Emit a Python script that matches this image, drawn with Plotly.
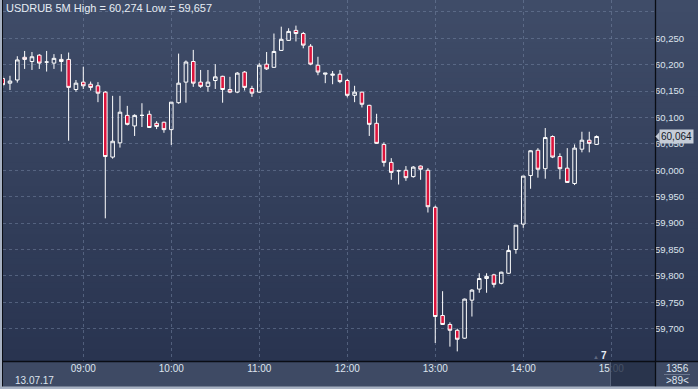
import plotly.graph_objects as go

DATE = "2017-07-13 "
times = ["08:05", "08:10", "08:15", "08:20", "08:25", "08:30", "08:35", "08:40", "08:45", "08:50", "08:55",
         "09:00", "09:05", "09:10", "09:15", "09:20", "09:25", "09:30", "09:35", "09:40", "09:45", "09:50", "09:55",
         "10:00", "10:05", "10:10", "10:15", "10:20", "10:25", "10:30", "10:35", "10:40", "10:45", "10:50", "10:55",
         "11:00", "11:05", "11:10", "11:15", "11:20", "11:25", "11:30", "11:35", "11:40", "11:45", "11:50", "11:55",
         "12:00", "12:05", "12:10", "12:15", "12:20", "12:25", "12:30", "12:35", "12:40", "12:45", "12:50", "12:55",
         "13:00", "13:05", "13:10", "13:15", "13:20", "13:25", "13:30", "13:35", "13:40", "13:45", "13:50", "13:55",
         "14:00", "14:05", "14:10", "14:15", "14:20", "14:25", "14:30", "14:35", "14:40", "14:45", "14:50"]

opens = [60.174, 60.165, 60.171, 60.214, 60.206, 60.218, 60.205, 60.203, 60.210, 60.210, 60.153,
         60.167, 60.163, 60.160, 60.148, 60.025, 60.052, 60.104, 60.084, 60.104, 60.106, 60.089, 60.091,
         60.077, 60.128, 60.167, 60.206, 60.167, 60.159, 60.170, 60.178, 60.153, 60.148, 60.186, 60.155,
         60.148, 60.201, 60.195, 60.227, 60.246, 60.265, 60.259, 60.235, 60.199, 60.182, 60.180, 60.182,
         60.170, 60.142, 60.148, 60.123, 60.089, 60.049, 60.015, 59.999, 60.000, 59.988, 60.008, 60.000,
         59.930, 59.725, 59.708, 59.697, 59.682, 59.754, 59.775, 59.795, 59.802, 59.786, 59.805, 59.850,
         59.898, 59.990, 60.038, 60.003, 60.064, 60.026, 60.004, 59.975, 60.040, 60.057, 60.049]
highs = [60.179, 60.179, 60.216, 60.226, 60.224, 60.220, 60.226, 60.220, 60.220, 60.223, 60.171,
         60.196, 60.168, 60.167, 60.150, 60.141, 60.141, 60.122, 60.106, 60.127, 60.113, 60.093, 60.092,
         60.129, 60.221, 60.208, 60.228, 60.190, 60.190, 60.201, 60.179, 60.177, 60.186, 60.188, 60.160,
         60.203, 60.224, 60.259, 60.272, 60.269, 60.274, 60.262, 60.239, 60.215, 60.184, 60.188, 60.190,
         60.173, 60.160, 60.149, 60.124, 60.107, 60.053, 60.023, 60.001, 60.008, 60.008, 60.009, 60.004,
         59.933, 59.771, 59.712, 59.700, 59.757, 59.775, 59.805, 59.805, 59.804, 59.808, 59.858, 59.896,
         59.989, 60.038, 60.042, 60.080, 60.066, 60.032, 60.042, 60.049, 60.073, 60.073, 60.066]
lows = [60.156, 60.152, 60.166, 60.192, 60.190, 60.192, 60.187, 60.192, 60.187, 60.056, 60.149,
        60.154, 60.151, 60.129, 59.909, 60.022, 60.043, 60.085, 60.065, 60.082, 60.080, 60.078, 60.071,
        60.048, 60.126, 60.128, 60.158, 60.156, 60.149, 60.154, 60.128, 60.146, 60.146, 60.151, 60.139,
        60.147, 60.190, 60.194, 60.226, 60.245, 60.244, 60.231, 60.199, 60.180, 60.165, 60.163, 60.165,
        60.138, 60.129, 60.119, 60.065, 60.050, 60.007, 59.982, 59.973, 59.980, 59.986, 59.982, 59.920,
        59.673, 59.707, 59.666, 59.657, 59.681, 59.723, 59.768, 59.768, 59.778, 59.784, 59.804, 59.842,
        59.891, 59.965, 59.986, 59.984, 60.023, 59.983, 59.976, 59.972, 60.034, 60.034, 60.048]
closes = [60.162, 60.169, 60.209, 60.210, 60.215, 60.203, 60.205, 60.212, 60.206, 60.157, 60.165,
          60.160, 60.157, 60.146, 60.026, 60.055, 60.110, 60.087, 60.104, 60.104, 60.081, 60.083, 60.077,
          60.129, 60.165, 60.205, 60.165, 60.159, 60.167, 60.177, 60.153, 60.148, 60.184, 60.157, 60.146,
          60.199, 60.192, 60.225, 60.248, 60.263, 60.259, 60.237, 60.201, 60.186, 60.184, 60.182, 60.168,
          60.142, 60.148, 60.125, 60.087, 60.051, 60.015, 59.996, 59.999, 59.986, 60.006, 60.002, 59.931,
          59.723, 59.708, 59.697, 59.680, 59.756, 59.773, 59.795, 59.799, 59.784, 59.807, 59.848, 59.896,
          59.989, 60.037, 60.002, 60.062, 60.025, 60.003, 59.977, 60.042, 60.057, 60.051, 60.064]

price_ticks = [59.70, 59.75, 59.80, 59.85, 59.90, 59.95, 60.00, 60.05, 60.10, 60.15, 60.20, 60.25, 60.30]
price_labels = ["59,700", "59,750", "59,800", "59,850", "59,900", "59,950", "60,000",
                "60,050", "60,100", "60,150", "60,200", "60,250", ""]
hour_ticks = ["09:00", "10:00", "11:00", "12:00", "13:00", "14:00", "15:00"]

title_text = "USDRUB 5M High = 60,274 Low = 59,657"
date_label = "13.07.17"
last_price_label = "60,064"
last_price = 60.064

# layout geometry (pixels)
W, H = 698, 389
ML, MR, MT, MB = 3, 43, 0, 28
PW, PH = W - ML - MR, H - MT - MB


def px_x(px):
    return (px - ML) / PW


def px_y(py):
    return (H - MB - py) / PH


FONT = "Liberation Sans"
TXT = "#dde4ee"

fig = go.Figure()
fig.add_trace(go.Candlestick(
    x=[DATE + t for t in times], open=opens, high=highs, low=lows, close=closes,
    increasing=dict(line=dict(color="#ffffff", width=1), fillcolor="rgba(0,0,0,0)"),
    decreasing=dict(line=dict(color="#ffffff", width=1), fillcolor="#dc143c"),
    whiskerwidth=0, hoverinfo="skip", showlegend=False,
))

shapes = []
# gradient background bands
top = (63, 76, 104)
bot = (41, 52, 80)
N = 60
for i in range(N):
    f = i / (N - 1)
    c = tuple(round(top[k] + (bot[k] - top[k]) * f) for k in range(3))
    y0 = PH * i / N
    y1 = PH * (i + 1) / N + 0.6
    shapes.append(dict(type="rect", xref="paper", yref="paper", layer="below",
                       x0=px_x(0), x1=px_x(W), y0=px_y(y1), y1=px_y(y0),
                       line=dict(width=0), fillcolor="rgb(%d,%d,%d)" % c))
# bottom band
shapes.append(dict(type="rect", xref="paper", yref="paper", layer="below",
                   x0=px_x(0), x1=px_x(W), y0=px_y(H), y1=px_y(H - MB),
                   line=dict(width=0), fillcolor="#3e4a64"))
# dark future area under time axis
shapes.append(dict(type="rect", xref="paper", yref="paper", layer="above",
                   x0=px_x(610.5), x1=px_x(655), y0=px_y(386), y1=px_y(362),
                   line=dict(width=0), fillcolor="rgba(36,47,71,0.82)"))
shapes.append(dict(type="line", xref="paper", yref="paper", layer="above",
                   x0=px_x(610.5), x1=px_x(610.5), y0=px_y(386), y1=px_y(362),
                   line=dict(width=1, color="#56627a")))
# black frame lines
shapes.append(dict(type="line", xref="paper", yref="paper", layer="above",
                   x0=px_x(655.5), x1=px_x(655.5), y0=px_y(387), y1=px_y(0),
                   line=dict(width=1.3, color="#0a0d14")))
shapes.append(dict(type="line", xref="paper", yref="paper", layer="above",
                   x0=px_x(2), x1=px_x(W), y0=px_y(361.5), y1=px_y(361.5),
                   line=dict(width=1.3, color="#0a0d14")))
shapes.append(dict(type="line", xref="paper", yref="paper", layer="above",
                   x0=px_x(2.5), x1=px_x(2.5), y0=px_y(387), y1=px_y(0),
                   line=dict(width=1, color="#0a0d14")))
# light outer border (left, bottom)
shapes.append(dict(type="rect", xref="paper", yref="paper", layer="above",
                   x0=px_x(0), x1=px_x(2), y0=px_y(H), y1=px_y(0),
                   line=dict(width=0), fillcolor="#a7b1c2"))
shapes.append(dict(type="rect", xref="paper", yref="paper", layer="above",
                   x0=px_x(0), x1=px_x(W), y0=px_y(H), y1=px_y(386.5),
                   line=dict(width=0), fillcolor="#a7b1c2"))
# separator in bottom-right box
shapes.append(dict(type="line", xref="paper", yref="paper", layer="above",
                   x0=px_x(664), x1=px_x(690), y0=px_y(374.5), y1=px_y(374.5),
                   line=dict(width=1, color="#6c7890")))
# last price tag arrow
dy = 4.5 / 528
shapes.append(dict(type="path", xref="paper", yref="y", layer="above",
                   path="M %f,%f L %f,%f L %f,%f Z" % (px_x(655.5), last_price, px_x(659.5), last_price + dy,
                                                       px_x(659.5), last_price - dy),
                   line=dict(width=0), fillcolor="#c6cdd8"))

annotations = [
    dict(text=title_text, xref="paper", yref="paper", x=px_x(4), y=px_y(8.5), xanchor="left", yanchor="middle",
         showarrow=False, font=dict(family=FONT, size=11, color="#e6ecf4")),
    dict(text=date_label, xref="paper", yref="paper", x=px_x(13), y=px_y(380), xanchor="left", yanchor="middle",
         showarrow=False, font=dict(family=FONT, size=10, color=TXT)),
    dict(text="<b>7</b>", xref="paper", yref="paper", x=px_x(604), y=px_y(355.5), xanchor="center",
         yanchor="middle", showarrow=False, font=dict(family=FONT, size=10, color="#e8eef6")),
    dict(text="▲", xref="paper", yref="paper", x=px_x(596), y=px_y(357), xanchor="center",
         yanchor="middle", showarrow=False, font=dict(family=FONT, size=6, color="#5d6880")),
    dict(text="1356", xref="paper", yref="paper", x=px_x(677), y=px_y(368.5), xanchor="center",
         yanchor="middle", showarrow=False, font=dict(family=FONT, size=10, color=TXT)),
    dict(text="&gt;89&lt;", xref="paper", yref="paper", x=px_x(677), y=px_y(380.5), xanchor="center",
         yanchor="middle", showarrow=False, font=dict(family=FONT, size=10, color=TXT)),
    dict(text=last_price_label, xref="paper", yref="y", x=px_x(659.5), y=last_price, xanchor="left",
         yanchor="middle", showarrow=False, bgcolor="#c6cdd8", borderpad=1,
         font=dict(family=FONT, size=10, color="#141a28")),
]

fig.update_layout(
    width=W, height=H,
    margin=dict(l=ML, r=MR, t=MT, b=MB, pad=0),
    paper_bgcolor="#3e4a64", plot_bgcolor="rgba(0,0,0,0)",
    shapes=shapes, annotations=annotations,
    showlegend=False, hovermode=False,
    font=dict(family=FONT, size=10, color=TXT),
    xaxis=dict(
        type="date",
        range=[DATE + "08:05:15", DATE + "15:29:50"],
        tickvals=[DATE + t for t in hour_ticks], ticktext=hour_ticks,
        showgrid=True, gridcolor="rgba(120,136,165,0.5)", griddash="3px,3px", gridwidth=1,
        zeroline=False, showline=False, ticks="",
        rangeslider=dict(visible=False),
        tickfont=dict(family=FONT, size=10, color=TXT),
        fixedrange=True,
    ),
    yaxis=dict(
        side="right",
        range=[59.6388, 60.3225],
        tickvals=price_ticks, ticktext=price_labels,
        showgrid=True, gridcolor="rgba(120,136,165,0.5)", griddash="3px,3px", gridwidth=1,
        zeroline=False, showline=False, ticks="",
        tickfont=dict(family=FONT, size=9.5, color=TXT),
        ticklabelstandoff=-1,
        fixedrange=True,
    ),
)

fig.write_html("out.html", config={"displayModeBar": False},
               post_script="document.body.style.margin='0';document.body.style.overflow='hidden';")
